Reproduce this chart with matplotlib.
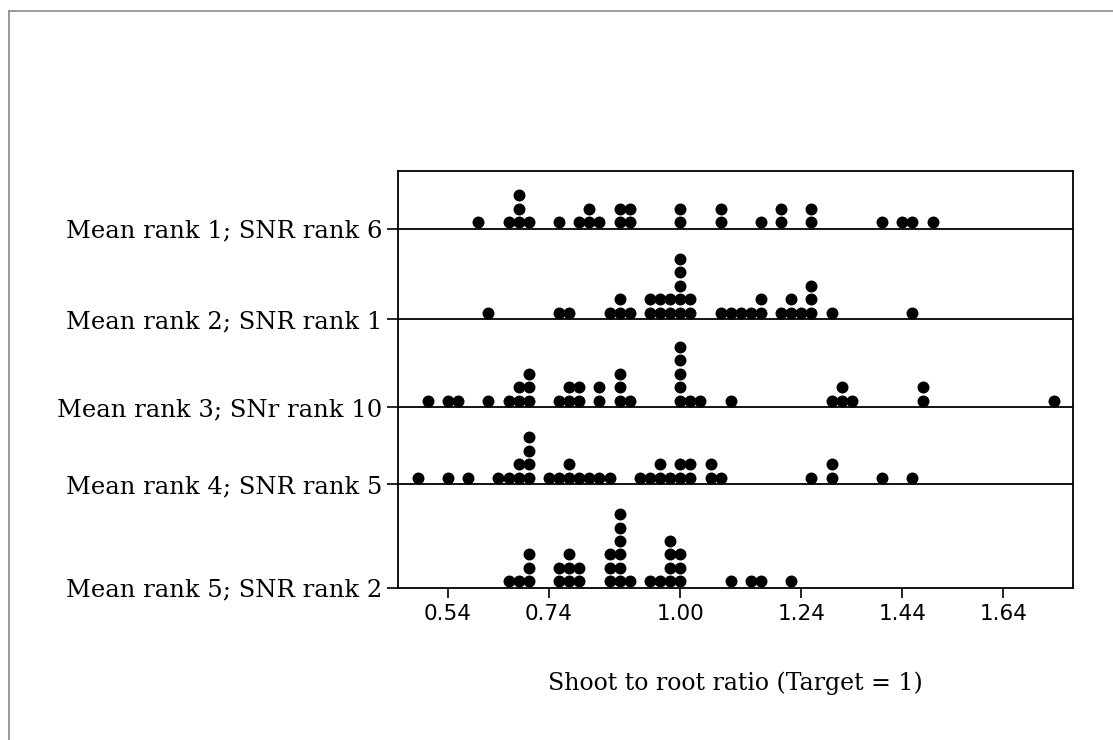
import numpy as np
import matplotlib
matplotlib.use("Agg")
import matplotlib.pyplot as plt
from matplotlib.lines import Line2D

# shoot to root ratio per candidate (one entry per plant, binned to 0.02)
rank1 = [0.60, 0.66, 0.68, 0.68, 0.68, 0.70, 0.76, 0.80, 0.82, 0.82, 0.84,
         0.88, 0.88, 0.90, 0.90, 1.00, 1.00, 1.08, 1.08, 1.16, 1.20, 1.20,
         1.26, 1.26, 1.40, 1.44, 1.46, 1.50]
rank2 = [0.62, 0.76, 0.78, 0.86, 0.88, 0.88, 0.90, 0.94, 0.94, 0.96, 0.96,
         0.98, 0.98, 1.00, 1.00, 1.00, 1.00, 1.00, 1.02, 1.02, 1.08, 1.10,
         1.12, 1.14, 1.16, 1.16, 1.20, 1.22, 1.22, 1.24, 1.26, 1.26, 1.26,
         1.30, 1.46]
rank3 = [0.50, 0.54, 0.56, 0.62, 0.66, 0.68, 0.68, 0.70, 0.70, 0.70, 0.76,
         0.78, 0.78, 0.80, 0.80, 0.84, 0.84, 0.88, 0.88, 0.88, 0.90, 1.00,
         1.00, 1.00, 1.00, 1.00, 1.02, 1.04, 1.10, 1.30, 1.32, 1.32, 1.34,
         1.48, 1.48, 1.74]
rank4 = [0.48, 0.54, 0.58, 0.64, 0.66, 0.68, 0.68, 0.70, 0.70, 0.70, 0.70,
         0.74, 0.76, 0.78, 0.78, 0.80, 0.82, 0.84, 0.86, 0.92, 0.94, 0.96,
         0.96, 0.98, 1.00, 1.00, 1.02, 1.02, 1.06, 1.06, 1.08, 1.26, 1.30,
         1.30, 1.40, 1.46]
rank5 = [0.66, 0.68, 0.70, 0.70, 0.70, 0.76, 0.76, 0.78, 0.78, 0.78, 0.80,
         0.80, 0.86, 0.86, 0.86, 0.88, 0.88, 0.88, 0.88, 0.88, 0.88, 0.90,
         0.94, 0.96, 0.98, 0.98, 0.98, 0.98, 1.00, 1.00, 1.00, 1.10, 1.14,
         1.16, 1.22]

groups = [rank1, rank2, rank3, rank4, rank5]
labels = ["Mean rank 1; SNR rank 6", "Mean rank 2; SNR rank 1",
          "Mean rank 3; SNr rank 10", "Mean rank 4; SNR rank 5",
          "Mean rank 5; SNR rank 2"]
xticks = [0.54, 0.74, 1.00, 1.24, 1.44, 1.64]

W, H = 1113, 740
fig = plt.figure(figsize=(W / 100, H / 100), dpi=100)

# thin page frame
fig.add_artist(Line2D([8.5 / W, 8.5 / W], [0, 1 - 11 / H], color="#8a8a8a", lw=1.2))
fig.add_artist(Line2D([8.5 / W, 1], [1 - 11 / H, 1 - 11 / H], color="#8a8a8a", lw=1.2))

# axes box in pixel terms
left, right, top, bottom = 398, 1073, 170.5, 587.5
ax = fig.add_axes([left / W, 1 - bottom / H, (right - left) / W, (bottom - top) / H])

# y runs in pixels so dot stacks keep their spacing
ax.set_ylim(0, bottom - top)
ax.set_xlim(0.441, 1.778)
baselines = [359, 268.5, 180.5, 103.5, 0]
step = 13.4
first = 6.4

for vals, base in zip(groups, baselines):
    if base > 0:
        ax.axhline(base, color="black", lw=1.3, zorder=1)
    xs, cnts = np.unique(np.round(vals, 2), return_counts=True)
    px, py = [], []
    for x, c in zip(xs, cnts):
        for k in range(c):
            px.append(x)
            py.append(base + first + k * step)
    ax.plot(px, py, "o", color="black", ms=8.6, mew=0, zorder=2)

for s in ax.spines.values():
    s.set_linewidth(1.3)

ax.set_yticks(baselines)
ax.set_yticklabels(labels, family="DejaVu Serif", fontsize=17.5)
ax.set_xticks(xticks)
ax.set_xticklabels(["%.2f" % t for t in xticks], family="DejaVu Sans", fontsize=15.5)
ax.tick_params(axis="y", direction="out", length=8, width=1.2, pad=3)
ax.tick_params(axis="x", direction="out", length=7, width=1.2, pad=5)
ax.set_xlabel("Shoot to root ratio (Target = 1)", family="DejaVu Serif",
              fontsize=17, labelpad=34)

fig.savefig("out.png", dpi=100)
